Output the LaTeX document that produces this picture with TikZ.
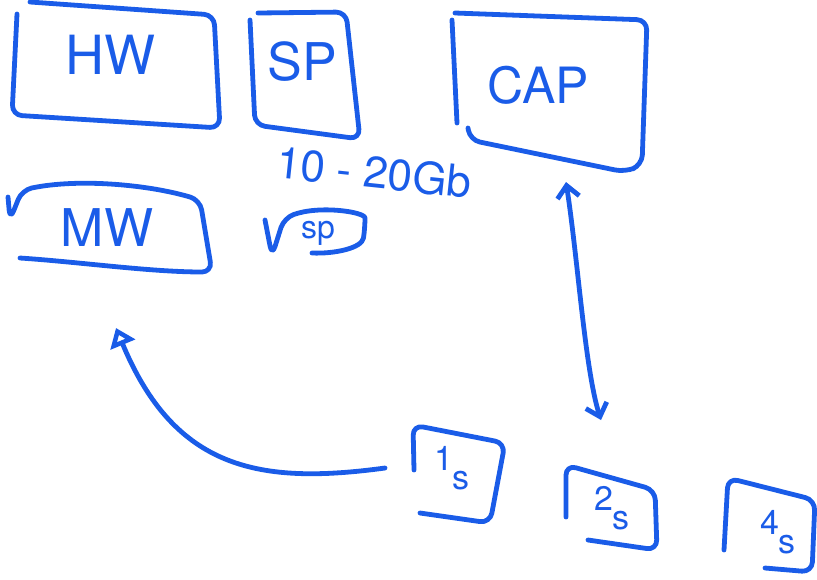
\documentclass[tikz,border=0pt]{standalone}
\usepackage{fontspec}
\setmainfont{TeX Gyre Heros}
\usetikzlibrary{arrows.meta}
\definecolor{ink}{HTML}{1A5CE8}
\newcommand{\stepped}[2]{#1\raisebox{-0.55em}{#2}}
\begin{document}
\begin{tikzpicture}[x=0.5pt,y=-0.5pt,
  stroke/.style={draw=ink,line width=2.4pt,line cap=round,line join=round,rounded corners=5pt},
  lbl/.style={text=ink,inner sep=0pt,font=\fontsize{21}{21}\selectfont},
  small/.style={font=\fontsize{17}{17}\selectfont},
  arr/.style={draw=ink,line width=2.4pt,line cap=round}]
\useasboundingbox (0,0) rectangle (817,579);
% HW box
\draw[stroke] (17,14) -- (12,115) -- (220,128) -- (214,15) -- (30,2);
\node[lbl,font=\fontsize{27}{27}\selectfont] (hw) at (110,55) {HW};
% SP box
\draw[stroke] (250,20) -- (255,125) -- (360,139) -- (346,12) -- (258,13);
\node[lbl,font=\fontsize{26}{26}\selectfont] (sp) at (302,62) {SP};
% CAP box
\draw[stroke] (452,20) -- (457,123);
\draw[stroke] (455,13) -- (647,20) -- (642,165) -- (625,172) -- (470,140) -- (468,128);
\node[lbl,font=\fontsize{25}{25}\selectfont] (cap) at (538,85) {CAP};
% 10 - 20Gb
\node[lbl,font=\fontsize{22}{22}\selectfont,rotate=-6] (gb) at (374,172) {10 - 20Gb};
% MW box
\draw[stroke] (8,197) -- (10,220) -- (22,190) .. controls (80,178) and (150,185) .. (200,200) -- (212,272) .. controls (150,272) and (80,262) .. (20,258);
\node[lbl,font=\fontsize{26}{26}\selectfont] (mw) at (107,228) {MW};
% vSP
\draw[stroke] (265,220) -- (272,256) -- (284,218) .. controls (320,205) and (365,212) .. (365,228) .. controls (362,248) and (335,254) .. (312,253);
\node[lbl,font=\fontsize{16}{16}\selectfont] (vsp) at (318,233) {sp};
% 1s box
\draw[stroke] (414,470) -- (413,425) -- (505,443) -- (490,523) -- (420,513);
\node[lbl,small] (s1) at (452,468) {\stepped{1}{s}};
% 2s box
\draw[stroke] (566,517) -- (566,465) -- (655,490) -- (657,550) -- (588,540);
\node[lbl,small] (s2) at (612,508) {\stepped{2}{s}};
% 4s box
\draw[stroke] (724,550) -- (728,478) -- (815,500) -- (812,572) -- (765,568);
\node[lbl,small] (s4) at (778,532) {\stepped{4}{s}};
% connectors
\coordinate (c1) at (385,468);
\coordinate (c2) at (116,328);
\draw[arr,-{Triangle[open,length=9pt,width=13pt,line width=2.4pt]}] (c1) .. controls (260,485) and (175,470) .. (c2);
\coordinate (d1) at (566,182);
\coordinate (d2) at (601,420);
\draw[arr,{Straight Barb[length=6pt,width=11pt]}-{Straight Barb[length=6pt,width=11pt]}] (d1) .. controls (578,260) and (585,370) .. (d2);
\end{tikzpicture}
\end{document}
